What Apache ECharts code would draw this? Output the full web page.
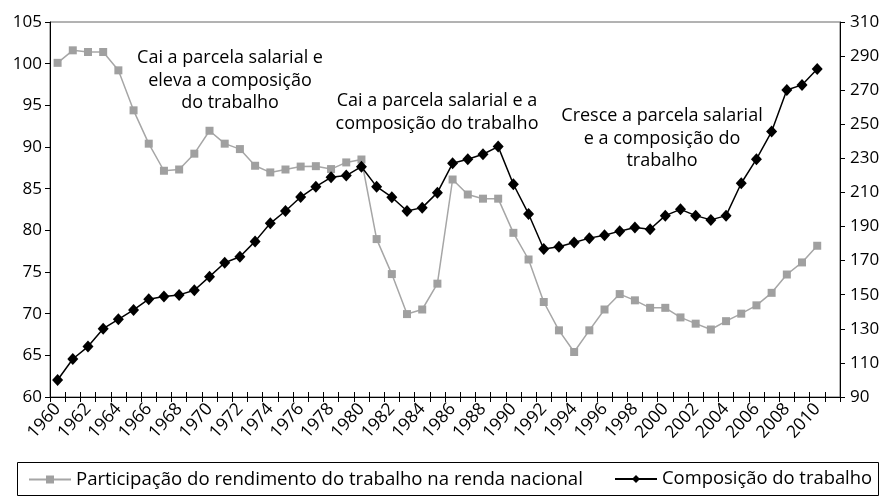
<!DOCTYPE html>
<html>
<head>
<meta charset="utf-8">
<script src="https://cdn.jsdelivr.net/npm/echarts@6/dist/echarts.min.js"></script>
<style>html,body{margin:0;padding:0;background:#fff}#c{width:888px;height:499px}</style>
</head>
<body>
<div id="c"></div>
<script>
const years = [];
for (let y = 1960; y <= 2011; y++) years.push(String(y));

const participacao = [100.1, 101.6, 101.4, 101.4, 99.2, 94.4, 90.4, 87.15, 87.3, 89.2,
  91.95, 90.4, 89.75, 87.75, 86.95, 87.3, 87.65, 87.7, 87.35, 88.15,
  88.5, 78.95, 74.75, 69.95, 70.5, 73.6, 86.1, 84.3, 83.8, 83.8,
  79.7, 76.5, 71.4, 68.0, 65.4, 68.0, 70.5, 72.35, 71.6, 70.7,
  70.7, 69.55, 68.8, 68.1, 69.1, 70.0, 71.0, 72.5, 74.7, 76.15,
  78.15, null];

const composicao = [100, 112.3, 119.6, 130.1, 135.6, 141.1, 147.4, 148.9, 149.9, 152.6,
  160.6, 168.8, 172.3, 181.3, 191.9, 199.1, 207.3, 213.4, 218.9, 219.9,
  225.1, 213.4, 207.2, 199.1, 201.1, 209.9, 227.1, 229.5, 232.4, 236.9,
  214.8, 197.4, 176.8, 178.2, 180.6, 183.2, 184.9, 187.3, 189.4, 188.4,
  196.4, 200.1, 196.4, 193.9, 196.4, 215.4, 229.5, 245.7, 270.1, 273.1,
  282.4, null];

const seriesNames = ['Participação do rendimento do trabalho na renda nacional', 'Composição do trabalho'];
const annotations = [
  'Cai a parcela salarial e\neleva a composição\ndo trabalho',
  'Cai a parcela salarial e a\ncomposição do trabalho',
  'Cresce a parcela salarial\ne a composição do\ntrabalho'
];

const FONT = '"Open Sans", "Noto Sans", sans-serif';
const chart = echarts.init(document.getElementById('c'), null, {renderer: 'canvas'});

const annStyle = {fontFamily: FONT, fontSize: 18, fill: '#000', textAlign: 'center', textVerticalAlign: 'top', lineHeight: 22.5};

chart.setOption({
  animation: false,
  textStyle: {fontFamily: FONT},
  grid: {left: 50, right: 48, top: 22, bottom: 102, show: true, borderColor: '#666', borderWidth: 1, backgroundColor: 'transparent'},
  legend: [
    {data: [seriesNames[0]], left: 28, top: 470, padding: 0, itemWidth: 42, itemHeight: 10, itemGap: 5,
     textStyle: {fontFamily: FONT, fontSize: 18.6, color: '#000'}},
    {data: [seriesNames[1]], left: 614, top: 470, padding: 0, itemWidth: 42, itemHeight: 10, itemGap: 5,
     textStyle: {fontFamily: FONT, fontSize: 18.4, color: '#000'}}
  ],
  graphic: [
    {type: 'rect', shape: {x: 17.5, y: 462.5, width: 861, height: 33}, style: {fill: 'none', stroke: '#000', lineWidth: 1}, silent: true},
    {type: 'text', x: 230, y: 47, style: Object.assign({text: annotations[0]}, annStyle)},
    {type: 'text', x: 437, y: 90, style: Object.assign({text: annotations[1]}, annStyle)},
    {type: 'text', x: 662, y: 105, style: Object.assign({text: annotations[2]}, annStyle)}
  ],
  xAxis: [
    {type: 'category', data: years, boundaryGap: true, position: 'bottom',
     axisLine: {lineStyle: {color: '#000', width: 1}},
     axisTick: {show: true, interval: 0, length: 5, lineStyle: {color: '#000'}},
     axisLabel: {interval: 1, rotate: 48, fontSize: 17.5, color: '#000', margin: 9, fontFamily: FONT},
     splitLine: {show: false}},
    {type: 'category', data: years, boundaryGap: true, position: 'bottom',
     axisLine: {show: false},
     axisTick: {show: true, inside: true, interval: 0, length: 5, lineStyle: {color: '#000'}},
     axisLabel: {show: false}, splitLine: {show: false}}
  ],
  yAxis: [
    {type: 'value', min: 60, max: 105, interval: 5, position: 'left',
     axisLine: {show: true, lineStyle: {color: '#000'}},
     axisTick: {show: true, length: 5, lineStyle: {color: '#000'}},
     axisLabel: {fontSize: 17, color: '#000', margin: 8, fontFamily: FONT},
     splitLine: {show: false}},
    {type: 'value', min: 90, max: 310, interval: 20, position: 'right',
     axisLine: {show: true, lineStyle: {color: '#000'}},
     axisTick: {show: true, length: 5, lineStyle: {color: '#000'}},
     axisLabel: {fontSize: 17, color: '#000', margin: 10, fontFamily: FONT},
     splitLine: {show: false}}
  ],
  series: [
    {name: seriesNames[0], type: 'line', xAxisIndex: 0, yAxisIndex: 0, data: participacao,
     symbol: 'rect', symbolSize: 8, showAllSymbol: true,
     itemStyle: {color: '#a0a0a0'}, lineStyle: {color: '#a6a6a6', width: 1.5}},
    {name: seriesNames[1], type: 'line', xAxisIndex: 0, yAxisIndex: 1, data: composicao,
     symbol: 'diamond', symbolSize: [11, 12], showAllSymbol: true,
     itemStyle: {color: '#000'}, lineStyle: {color: '#000', width: 1.5}}
  ]
});
</script>
</body>
</html>
